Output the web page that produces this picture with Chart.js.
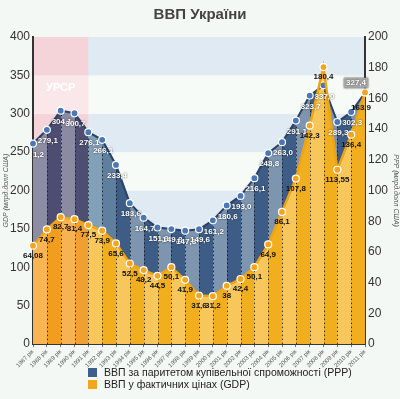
<!DOCTYPE html>
<html>
<head>
<meta charset="utf-8">
<script src="https://cdn.jsdelivr.net/npm/chart.js@4"></script>
<style>
  body { margin: 0; background: #f4f8f4; font-family: 'Liberation Sans', Arial, sans-serif; }
  #wrap { position: relative; width: 400px; height: 371px; }
  #legend { position: absolute; left: 88px; top: 366px; font-size: 10.5px; color: #222; }
  #legend div { height: 12px; line-height: 12px; white-space: nowrap; }
  #legend span { display: inline-block; width: 9px; height: 9px; margin-right: 7px; vertical-align: -1px; }
</style>
</head>
<body>
<div id="wrap"><canvas id="gdpChart"></canvas></div>
<div id="legend">
  <div><span style="background:#3d5f8a"></span>ВВП за паритетом купівельної спроможності (PPP)</div>
  <div><span style="background:#f1a71c"></span>ВВП у фактичних цінах (GDP)</div>
</div>
<script>
const years = [1987, 1988, 1989, 1990, 1991, 1992, 1993, 1994, 1995, 1996, 1997, 1998, 1999,
  2000, 2001, 2002, 2003, 2004, 2005, 2006, 2007, 2008, 2009, 2010, 2011];
const pppValues = [261.2, 279.1, 304.1, 300.7, 276.1, 266.1, 233.4, 183.6, 164.7, 151.9, 149.8, 147.8, 149.6,
  161.2, 180.6, 193.0, 216.1, 248.8, 263.0, 291.1, 323.7, 337.0, 289.3, 302.3, 327.4];
const gdpValues = [64.08, 74.7, 82.7, 81.4, 77.5, 73.9, 65.6, 52.5, 48.2, 44.5, 50.1, 41.9, 31.6,
  31.2, 38, 42.4, 50.1, 64.9, 86.1, 107.8, 142.3, 180.4, 113.55, 136.4, 163.9];
const leftTicks = [0, 50, 100, 150, 200, 250, 300, 350, 400];
const rightTicks = [0, 20, 40, 60, 80, 100, 120, 140, 160, 180, 200];
const sovietEnd = 4; // 1991

// column colours for the striped fills
const blueCols = ['#8c8ca4', '#4d4d72', '#8a8aa2', '#4e4e72', '#82a0b8', '#5f7f9f'];
const orangeCols = ['#f8b552', '#f19d1e', '#f7b352', '#f0a030'];
for (let i = blueCols.length; i < years.length; i++) blueCols.push(i % 2 ? '#7d95af' : '#3d5d86');
for (let i = orangeCols.length; i < years.length; i++) orangeCols.push(i % 2 ? '#f1ae1e' : '#f8c75c');

function stripes(cols) {
  return (ctx) => {
    const chart = ctx.chart;
    const area = chart.chartArea;
    const x = chart.scales.x;
    if (!area || !x) return cols[0];
    const w = area.right - area.left;
    const g = chart.ctx.createLinearGradient(area.left, 0, area.right, 0);
    for (let i = 0; i < years.length - 1; i++) {
      const a = Math.min(1, Math.max(0, (x.getPixelForValue(i) - area.left) / w));
      const b = Math.min(1, Math.max(0, (x.getPixelForValue(i + 1) - area.left) / w));
      g.addColorStop(a, cols[i]);
      g.addColorStop(b, cols[i]);
    }
    return g;
  };
}

const fmt = (v, fixed) => (fixed ? v.toFixed(1) : String(v)).replace('.', ',');

const backdrop = {
  id: 'backdrop',
  beforeDraw(chart) {
    const {ctx, chartArea: a, scales} = chart;
    const y = scales.y;
    ctx.save();
    for (let i = 0; i < leftTicks.length - 1; i++) {
      const top = y.getPixelForValue(leftTicks[i + 1]);
      const bot = y.getPixelForValue(leftTicks[i]);
      const blue = (leftTicks.length - 2 - i) % 2 === 0;
      ctx.fillStyle = blue ? '#e0eaf3' : '#f7fbf7';
      ctx.fillRect(a.left, top, a.right - a.left, bot - top);
      ctx.fillStyle = blue ? '#f4d4d8' : '#fae7e9';
      const xr = scales.x.getPixelForValue(sovietEnd);
      ctx.fillRect(a.left, top, xr - a.left, bot - top);
    }
    ctx.fillStyle = '#ffffff';
    ctx.font = 'bold 11px "Liberation Sans", Arial';
    ctx.textAlign = 'center';
    ctx.textBaseline = 'middle';
    ctx.fillText('УРСР', (a.left + scales.x.getPixelForValue(sovietEnd)) / 2, y.getPixelForValue(333));
    ctx.restore();
  }
};

const dots = {
  id: 'dots',
  beforeDatasetsDraw(chart) {
    const {ctx, chartArea: a} = chart;
    const p = chart.getDatasetMeta(0).data;
    const g = chart.getDatasetMeta(1).data;
    ctx.save();
    ctx.strokeStyle = 'rgba(25,25,25,0.85)';
    ctx.lineWidth = 1;
    ctx.setLineDash([1.5, 2.5]);
    for (let i = 1; i < p.length - 1; i++) {
      const xx = Math.round(p[i].x) + 0.5;
      ctx.beginPath();
      ctx.moveTo(xx, a.bottom);
      ctx.lineTo(xx, Math.min(p[i].y, g[i].y));
      ctx.stroke();
    }
    ctx.restore();
  }
};

const valueLabels = {
  id: 'valueLabels',
  afterDatasetsDraw(chart) {
    const {ctx, chartArea: a} = chart;
    const p = chart.getDatasetMeta(0).data;
    const g = chart.getDatasetMeta(1).data;
    ctx.save();
    ctx.font = 'bold 8px "Liberation Sans", Arial';
    ctx.textAlign = 'center';
    ctx.textBaseline = 'middle';
    ctx.save();
    ctx.beginPath();
    ctx.rect(a.left, 0, chart.width - a.left, chart.height);
    ctx.clip();
    p.forEach((pt, i) => {
      const txt = fmt(pppValues[i], true);
      if (i === p.length - 1) {
        const tw = ctx.measureText(txt).width + 4;
        ctx.fillStyle = '#a9a9a9';
        ctx.fillRect(pt.x - 9 - tw / 2, pt.y - 15, tw, 10);
        ctx.fillStyle = '#fff';
        ctx.fillText(txt, pt.x - 9, pt.y - 10);
        return;
      }
      ctx.shadowColor = 'rgba(0,0,0,0.7)';
      ctx.shadowBlur = 2;
      ctx.fillStyle = '#fff';
      ctx.fillText(txt, pt.x + 1, pt.y + 11);
    });
    ctx.restore();
    g.forEach((pt, i) => {
      const txt = fmt(gdpValues[i], false);
      ctx.fillStyle = '#111';
      const dx = i === g.length - 1 ? -4 : 0;
      const dy = i === g.length - 1 ? 15 : 10;
      ctx.fillText(txt, pt.x + dx, pt.y + dy);
    });
    ctx.restore();
  }
};

new Chart(document.getElementById('gdpChart'), {
  type: 'line',
  data: {
    labels: years.map(y => y + ' рік'),
    datasets: [{
      label: 'ВВП за паритетом купівельної спроможності (PPP)',
      data: pppValues,
      yAxisID: 'y',
      order: 2,
      fill: 'origin',
      backgroundColor: stripes(blueCols),
      borderColor: '#2b4266',
      borderWidth: 2,
      tension: 0,
      pointRadius: 3.5,
      pointBackgroundColor: '#4a78b6',
      pointBorderColor: '#ffffff',
      pointBorderWidth: 1.2
    }, {
      label: 'ВВП у фактичних цінах (GDP)',
      data: gdpValues,
      yAxisID: 'y1',
      order: 1,
      fill: 'origin',
      backgroundColor: stripes(orangeCols),
      borderColor: '#eea414',
      borderWidth: 2.5,
      tension: 0,
      pointRadius: 3.5,
      pointBackgroundColor: '#f4a51c',
      pointBorderColor: '#ffffff',
      pointBorderWidth: 1.2
    }]
  },
  options: {
    responsive: true,
    maintainAspectRatio: false,
    animation: false,
    layout: { padding: { top: 0, bottom: 1, left: 0, right: 0 } },
    plugins: {
      legend: { display: false },
      tooltip: { enabled: false },
      filler: { drawTime: 'beforeDatasetsDraw' },
      title: {
        display: true,
        text: 'ВВП України',
        color: '#444',
        font: { size: 15, weight: 'bold' },
        padding: { top: 6, bottom: 13 }
      }
    },
    scales: {
      x: {
        offset: false,
        grid: { drawOnChartArea: false, drawTicks: true, tickLength: 3, color: '#777' },
        border: { display: true, color: '#333', width: 2 },
        ticks: {
          autoSkip: false, minRotation: 45, maxRotation: 45,
          color: '#555', font: { size: 6 }, padding: 1
        }
      },
      y: {
        position: 'left',
        min: 0, max: 400,
        afterBuildTicks: s => { s.ticks = leftTicks.map(v => ({ value: v })); },
        afterFit: s => { s.width = 33; },
        grid: { drawOnChartArea: false, drawTicks: false },
        border: { display: true, color: '#333', width: 2 },
        ticks: { color: '#333', font: { size: 12 }, padding: 3 },
        title: { display: true, text: 'GDP (млрд.долл США)', color: '#555', font: { size: 7, style: 'italic' }, padding: { top: 2, bottom: 0 } }
      },
      y1: {
        position: 'right',
        min: 0, max: 200,
        afterBuildTicks: s => { s.ticks = rightTicks.map(v => ({ value: v })); },
        afterFit: s => { s.width = 35; },
        grid: { drawOnChartArea: false, drawTicks: false },
        border: { display: true, color: '#333', width: 2 },
        ticks: { color: '#333', font: { size: 12 }, padding: 3 },
        title: { display: true, text: 'PPP (млрд.долл США)', color: '#555', font: { size: 7, style: 'italic' }, padding: 0 }
      }
    }
  },
  plugins: [backdrop, dots, valueLabels]
});
</script>
</body>
</html>
